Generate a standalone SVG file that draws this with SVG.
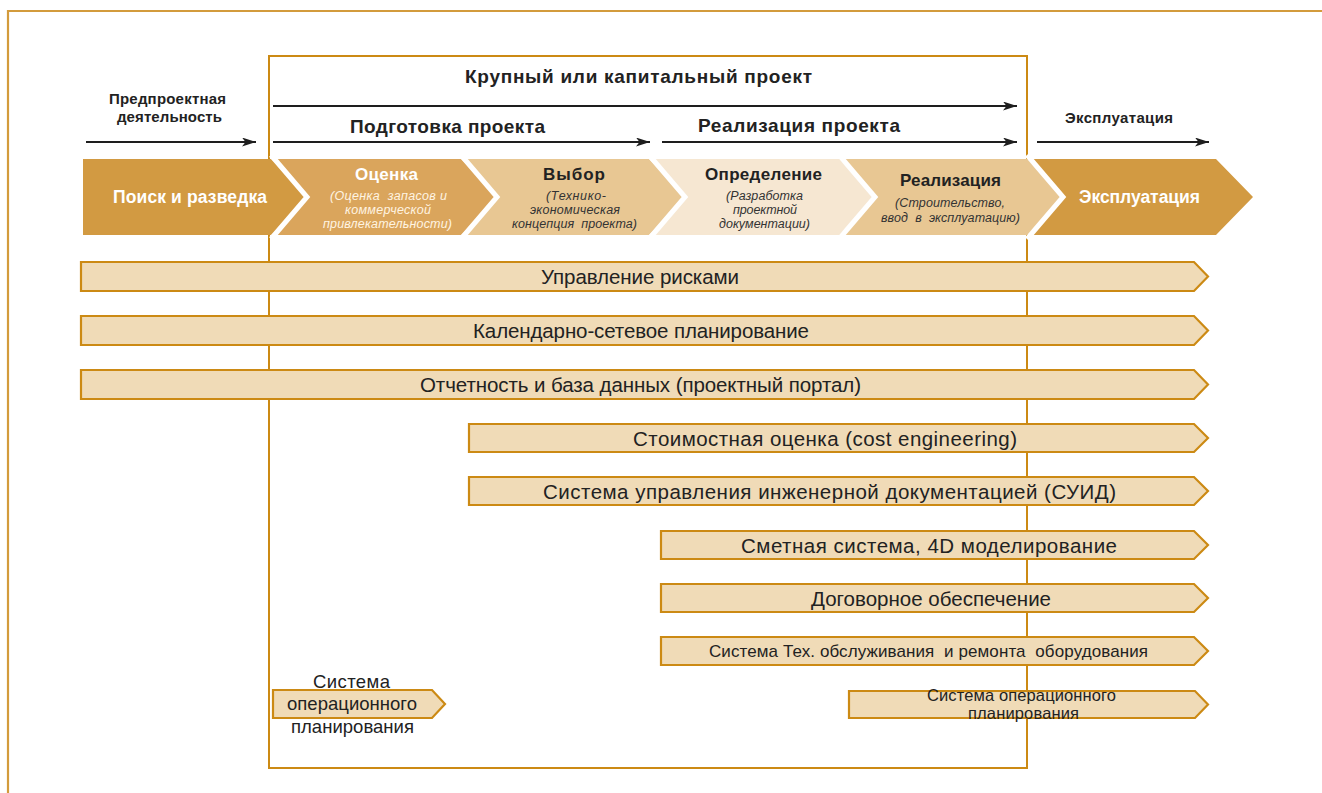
<svg xmlns="http://www.w3.org/2000/svg" width="1322" height="793" viewBox="0 0 1322 793">
<defs>
<marker id="ah" markerWidth="14" markerHeight="9" refX="14" refY="4.5" orient="auto" markerUnits="userSpaceOnUse">
<path d="M0,0 L14,4.5 L0,9 L3.5,4.5 z" fill="#1e1e1e"/>
</marker>
<style>
.frame{fill:none;stroke:#CC8A14;stroke-width:2}
.bar{fill:#F0DBB7;stroke:#CC8A14;stroke-width:2.2}
.arr{stroke:#1e1e1e;stroke-width:2;fill:none;marker-end:url(#ah)}
.sep{fill:none;stroke:#fff;stroke-width:5;stroke-linejoin:miter}
.lbl{font-family:"Liberation Sans",Arial,sans-serif;font-weight:bold;fill:#222;text-anchor:middle}
.bt{font-family:"Liberation Sans",Arial,sans-serif;fill:#222;text-anchor:middle}
.ch{font-family:"Liberation Sans",Arial,sans-serif;font-weight:bold;text-anchor:middle}
.sub{font-family:"Liberation Sans",Arial,sans-serif;font-style:italic;text-anchor:middle;font-size:12.5px;white-space:pre}
.pre{white-space:pre}
</style>
</defs>
<rect width="1322" height="793" fill="#fff"/>
<path d="M8,800 V11 H1330" fill="none" stroke="#D39B3C" stroke-width="2.2"/>
<rect id="project-frame" class="frame" x="269" y="56" width="758" height="712"/>

<g id="connectors">
<line class="arr" x1="86" y1="142" x2="256" y2="142"/>
<line class="arr" x1="273" y1="106" x2="1017" y2="106"/>
<line class="arr" x1="273" y1="142" x2="650" y2="142"/>
<line class="arr" x1="662" y1="142" x2="1017" y2="142"/>
<line class="arr" x1="1037" y1="142" x2="1209" y2="142"/>
</g>

<g id="arrow-labels">
<text class="lbl" font-size="15" x="167.5" y="104" textLength="117">Предпроектная</text>
<text class="lbl" font-size="15" x="169.5" y="122" textLength="105">деятельность</text>
<text class="lbl" font-size="19" x="638.5" y="83" textLength="347">Крупный или капитальный проект</text>
<text class="lbl" font-size="19" x="447.5" y="133" textLength="195">Подготовка проекта</text>
<text class="lbl" font-size="19" x="799" y="132" textLength="202">Реализация проекта</text>
<text class="lbl" font-size="15" x="1119" y="123" textLength="108">Эксплуатация</text>
</g>

<g id="phase-poisk">
<polygon points="83,159 271,159 307,197 271,235 83,235" fill="#D29A42"/>
<text class="ch" x="190" y="203" fill="#fff" font-size="17.5" textLength="154">Поиск и разведка</text>
</g>
<g id="phase-ocenka">
<polygon points="271,159 461,159 497,197 461,235 271,235 307,197" fill="#DAA55C"/>
<text class="ch" x="386.5" y="180" fill="#fff" font-size="17" textLength="63">Оценка</text>
<text class="sub" x="388.5" y="200" fill="#FFF4E2" textLength="117">(Оценка  запасов и</text>
<text class="sub" x="388" y="214" fill="#FFF4E2" textLength="86">коммерческой</text>
<text class="sub" x="387.5" y="228" fill="#FFF4E2" textLength="129">привлекательности)</text>
</g>
<g id="phase-vybor">
<polygon points="461,159 649,159 685,197 649,235 461,235 497,197" fill="#E8C793"/>
<text class="ch" x="574" y="180" fill="#222" font-size="17" textLength="62">Выбор</text>
<text class="sub" x="576" y="200" fill="#333" textLength="60">(Технико-</text>
<text class="sub" x="575" y="214" fill="#333" textLength="90">экономическая</text>
<text class="sub" x="574.5" y="228" fill="#333" textLength="125">концепция  проекта)</text>
</g>
<g id="phase-opredelenie">
<polygon points="649,159 839,159 875,197 839,235 649,235 685,197" fill="#F6E7D2"/>
<text class="ch" x="763.5" y="180" fill="#222" font-size="17" textLength="117">Определение</text>
<text class="sub" x="764.5" y="200" fill="#333" textLength="77">(Разработка</text>
<text class="sub" x="765" y="214" fill="#333" textLength="64">проектной</text>
<text class="sub" x="764.5" y="228" fill="#333" textLength="91">документации)</text>
</g>
<g id="phase-realizaciya">
<polygon points="839,159 1027,159 1063,197 1027,235 839,235 875,197" fill="#E8C793"/>
<text class="ch" x="950.5" y="186" fill="#222" font-size="17" textLength="101">Реализация</text>
<text class="sub" x="950" y="207" fill="#333" textLength="110">(Строительство,</text>
<text class="sub" x="950.5" y="222" fill="#333" textLength="139">ввод  в  эксплуатацию)</text>
</g>
<g id="phase-ekspluataciya">
<polygon points="1027,159 1216,159 1253,197 1216,235 1027,235 1063,197" fill="#D29A42"/>
<text class="ch" x="1139.5" y="203" fill="#fff" font-size="17.5" textLength="121">Эксплуатация</text>
</g>
<g id="phase-separators">
<polyline class="sep" points="271,155 307,197 271,239"/>
<polyline class="sep" points="461,155 497,197 461,239"/>
<polyline class="sep" points="649,155 685,197 649,239"/>
<polyline class="sep" points="839,155 875,197 839,239"/>
<polyline class="sep" points="1027,155 1063,197 1027,239"/>
</g>

<g id="bar-risk">
<path class="bar" d="M81,262 H1194 L1208,276.5 L1194,291 H81 Z"/>
<text class="bt" font-size="20.5" x="640" y="284" textLength="198">Управление рисками</text>
</g>
<g id="bar-calendar">
<path class="bar" d="M81,316 H1194 L1208,330.5 L1194,345 H81 Z"/>
<text class="bt" font-size="20.5" x="641" y="338" textLength="336">Календарно-сетевое планирование</text>
</g>
<g id="bar-report">
<path class="bar" d="M81,370 H1194 L1208,384.5 L1194,399 H81 Z"/>
<text class="bt" font-size="20.5" x="640.5" y="392" textLength="441">Отчетность и база данных (проектный портал)</text>
</g>
<g id="bar-cost">
<path class="bar" d="M469,424 H1194 L1208,438 L1194,452 H469 Z"/>
<text class="bt" font-size="20.5" x="825" y="445.5" textLength="384">Стоимостная оценка (cost engineering)</text>
</g>
<g id="bar-suid">
<path class="bar" d="M469,477 H1194 L1208,491 L1194,505 H469 Z"/>
<text class="bt" font-size="20.5" x="829.5" y="498.5" textLength="573">Система управления инженерной документацией (СУИД)</text>
</g>
<g id="bar-smeta">
<path class="bar" d="M661,531 H1194 L1208,545 L1194,559 H661 Z"/>
<text class="bt" font-size="20.5" x="929" y="552.5" textLength="376">Сметная система, 4D моделирование</text>
</g>
<g id="bar-dogovor">
<path class="bar" d="M661,584 H1194 L1208,598 L1194,612 H661 Z"/>
<text class="bt" font-size="20.5" x="931" y="605.5" textLength="240">Договорное обеспечение</text>
</g>
<g id="bar-toir">
<path class="bar" d="M661,637 H1194 L1208,651 L1194,665 H661 Z"/>
<text class="bt pre" font-size="17" x="928.5" y="657" textLength="439">Система Тех. обслуживания  и ремонта  оборудования</text>
</g>
<g id="bar-ops-left">
<path class="bar" d="M273,690 H432 L445,704 L432,718 H273 Z"/>
<text class="bt" font-size="18.5" x="351.5" y="688" textLength="77">Система</text>
<text class="bt" font-size="18.5" x="352" y="710" textLength="130">операционного</text>
<text class="bt" font-size="18.5" x="352.5" y="733" textLength="123">планирования</text>
</g>
<g id="bar-ops-right">
<path class="bar" d="M849,691 H1195 L1208,704.5 L1195,718 H849 Z"/>
<text class="bt" font-size="16.5" x="1021.5" y="701" textLength="189">Система операционного</text>
<text class="bt" font-size="16.5" x="1023.5" y="719" textLength="111">планирования</text>
</g>
</svg>
